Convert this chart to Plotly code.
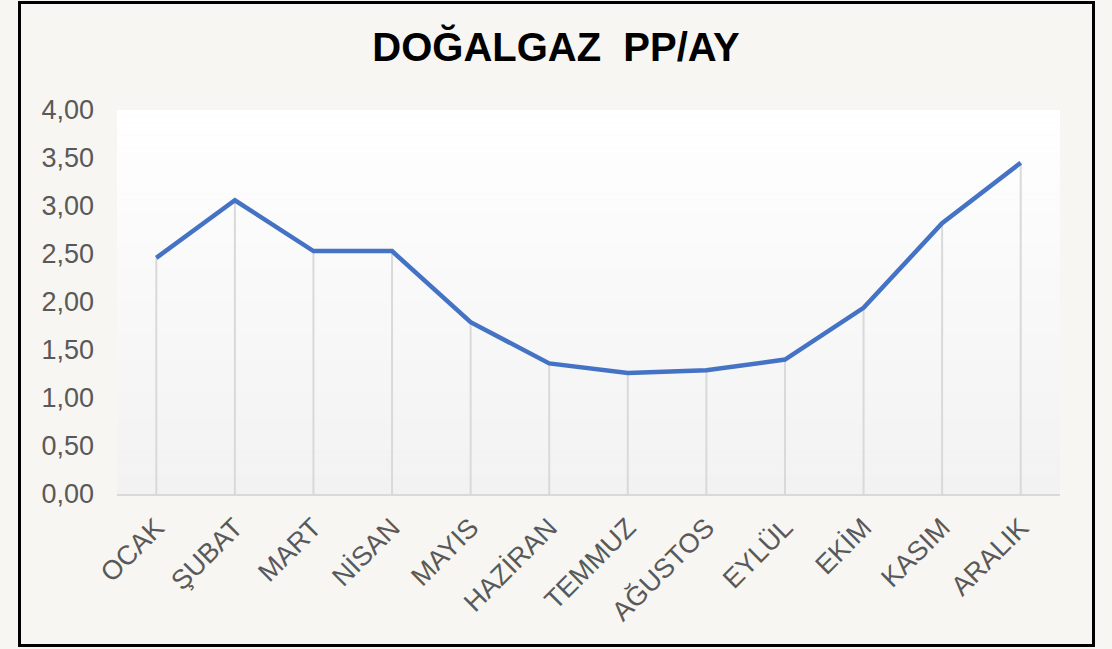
import plotly.graph_objects as go

months = ["OCAK", "ŞUBAT", "MART", "NİSAN", "MAYIS", "HAZİRAN",
          "TEMMUZ", "AĞUSTOS", "EYLÜL", "EKİM", "KASIM", "ARALIK"]
values = [2.46, 3.06, 2.53, 2.53, 1.79, 1.36, 1.26, 1.29, 1.40, 1.94, 2.82, 3.45]
title_text = "DOĞALGAZ  PP/AY"

W, H = 1112, 649
L, R, T, B = 117, 52, 110, 155
pw, ph = W - L - R, H - T - B

def px_to_paper_x(px):
    return (px - L) / pw

def px_to_paper_y(py):
    return (H - B - py) / ph

fig = go.Figure()
fig.add_trace(go.Scatter(
    x=months, y=values, mode="lines",
    line=dict(color="#4472c4", width=4.5),
    error_y=dict(type="data", symmetric=False, array=[0] * len(values),
                 arrayminus=values, color="#d9d9d9", thickness=2, width=0),
    hoverinfo="x+y",
))

# gradient background of plot area
shapes = []
n = 60
for i in range(n):
    t = i / (n - 1)
    c = int(round(255 - (255 - 242) * (1 - t)))
    shapes.append(dict(type="rect", xref="x domain", yref="y domain",
                       x0=0, x1=1, y0=i / n, y1=(i + 1) / n,
                       fillcolor=f"rgb({c},{c},{c})", line=dict(width=0),
                       layer="below"))
# outer border
shapes.append(dict(type="rect", xref="paper", yref="paper",
                   x0=px_to_paper_x(19.5), x1=px_to_paper_x(1093.5),
                   y0=px_to_paper_y(645.5), y1=px_to_paper_y(2.5),
                   line=dict(color="#000000", width=3), fillcolor="rgba(0,0,0,0)",
                   layer="above"))

fig.update_layout(
    width=W, height=H,
    margin=dict(l=L, r=R, t=T, b=B, pad=0),
    paper_bgcolor="#f7f6f2",
    plot_bgcolor="rgba(0,0,0,0)",
    separators=",.",
    showlegend=False,
    font=dict(family="Liberation Sans, Arial, sans-serif", color="#595959"),
    title=dict(text=f"<b>{title_text}</b>", x=0.5, xref="container", xanchor="center",
               y=1 - 47 / H, yanchor="middle",
               font=dict(size=40, color="#000000",
                         family="Liberation Sans, Arial, sans-serif")),
    shapes=shapes,
    xaxis=dict(
        showgrid=False, zeroline=False, showline=True, linecolor="#d9d9d9",
        linewidth=2, ticks="", tickangle=-45, tickfont=dict(size=27, color="#595959"),
        range=[-0.5, len(months) - 0.5], ticklabelstandoff=5,
    ),
    yaxis=dict(
        range=[0, 4], dtick=0.5, tickformat=".2f", showgrid=False,
        zeroline=False, showline=False, ticks="",
        tickfont=dict(size=27, color="#595959"), ticklabelstandoff=22,
    ),
)

fig.write_html(
    "out.html",
    config={"displayModeBar": False},
    post_script="document.body.style.margin='0';document.body.style.overflow='hidden';",
)
